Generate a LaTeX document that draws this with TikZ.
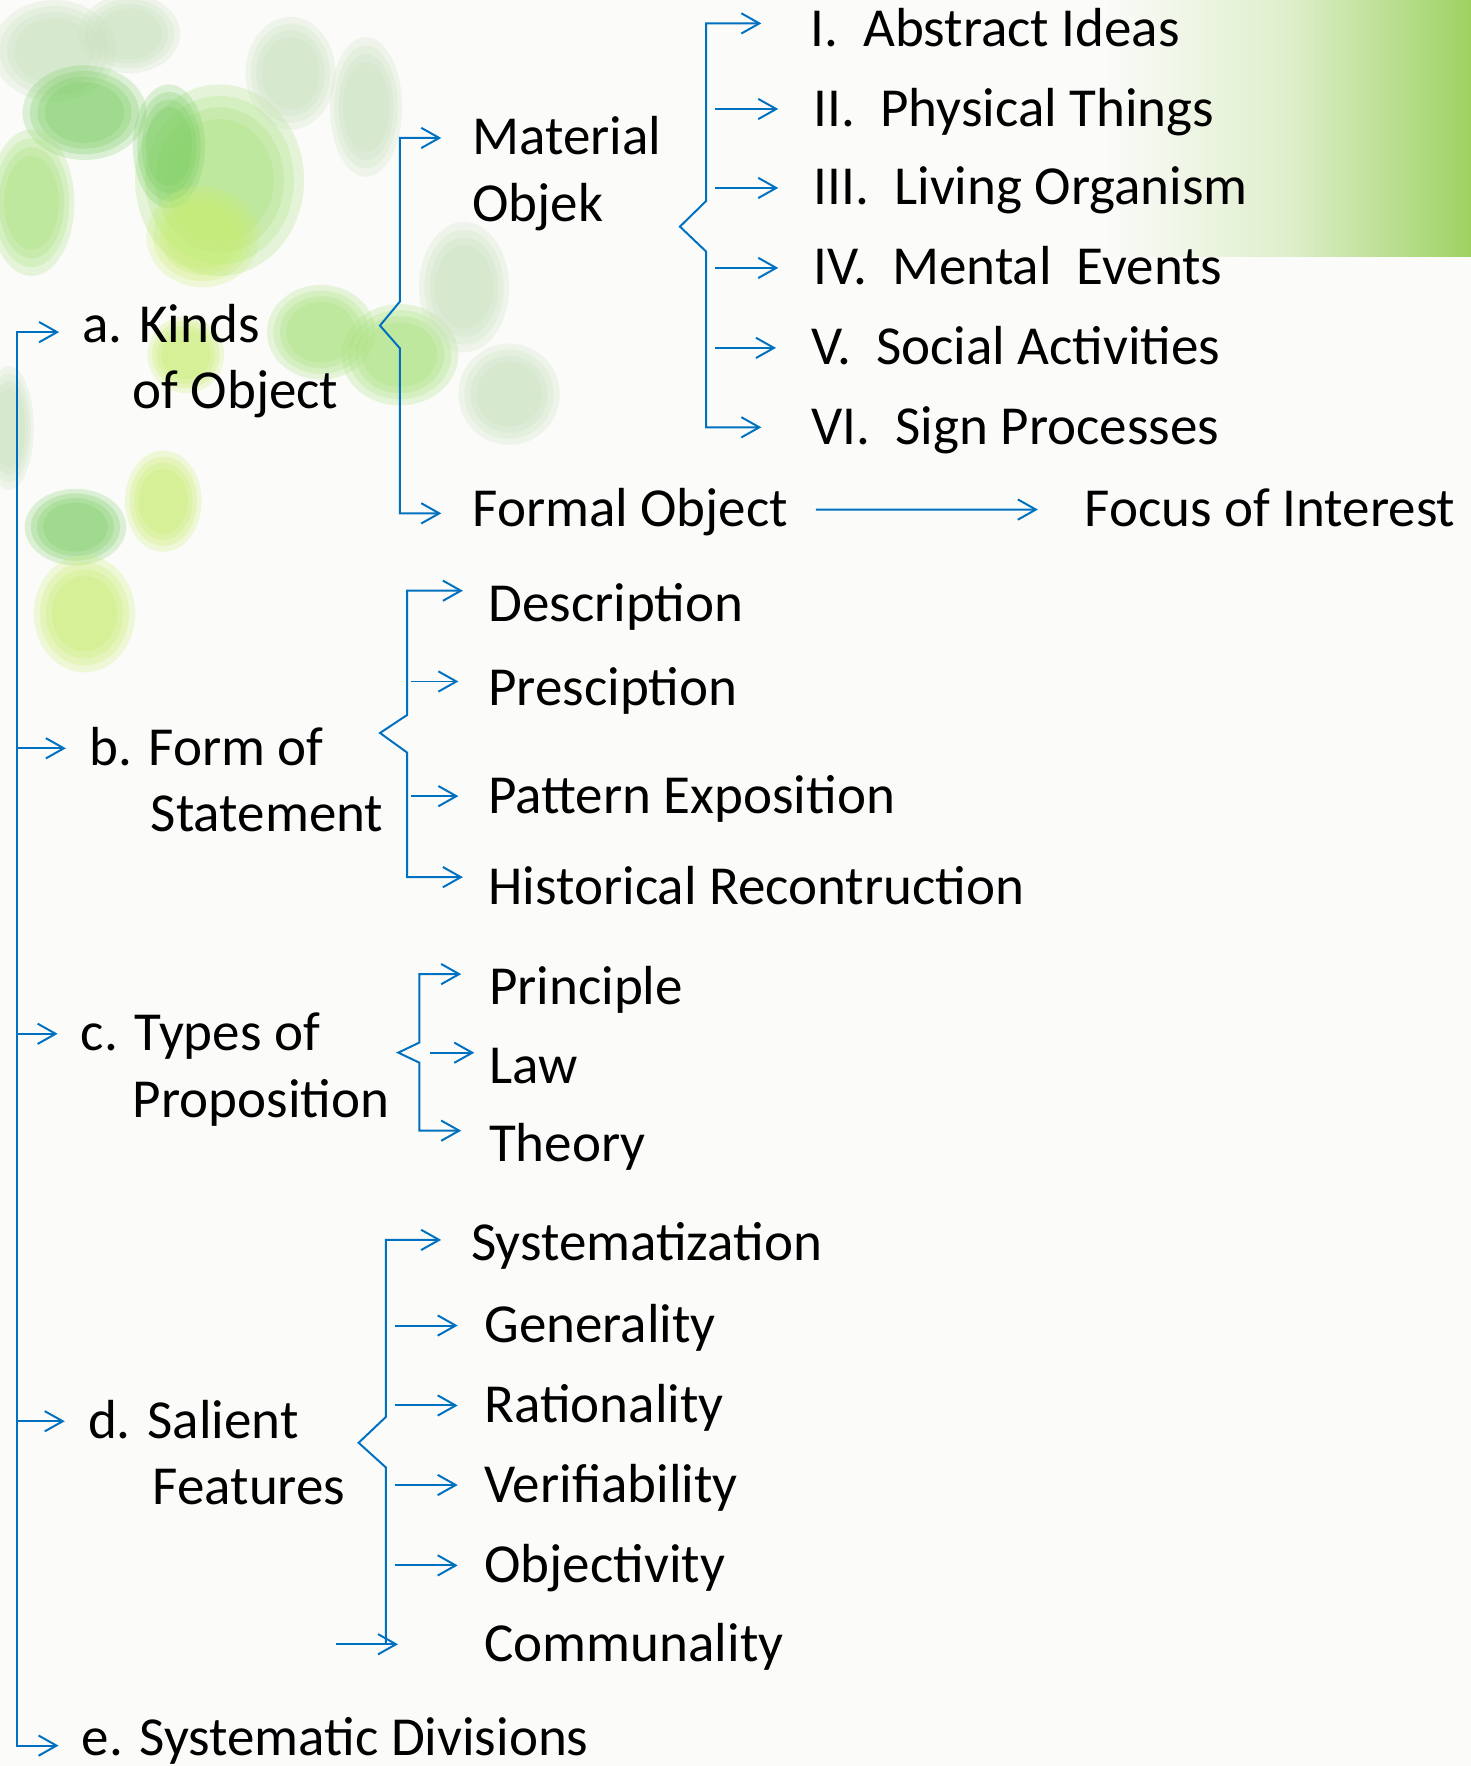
\documentclass[tikz,border=0pt]{standalone}
\usepackage{fontspec}
\setmainfont{Carlito}
\usetikzlibrary{arrows.meta}
\definecolor{arrowblue}{RGB}{0,112,192}
\definecolor{bgwhite}{RGB}{251,251,250}
\definecolor{leafgreen}{RGB}{158,210,98}
\definecolor{leafA}{RGB}{120,205,95}
\definecolor{leafB}{RGB}{165,225,120}
\definecolor{leafC}{RGB}{200,238,110}
\definecolor{leafD}{RGB}{200,226,188}

\begin{document}
\begin{tikzpicture}[>={Straight Barb[length=1.6mm,width=1.8mm]},
  link/.style={arrowblue, line width=0.5pt},
  txt/.style={anchor=base west, inner sep=0pt, text height=8.6pt, text depth=0pt,
    font=\fontsize{13.9pt}{16.7pt}\selectfont}]
  % background
  \fill[bgwhite] (0,0) rectangle (13.06,-15.68);
  \useasboundingbox (0,0) rectangle (13.06,-15.68);
  \shade[left color=bgwhite, right color=leafgreen, middle color=leafgreen!30!bgwhite] (9.8,0) rectangle (13.06,-2.28);
  \foreach \x/\y/\a/\b/\c in {0.48/0.45/0.55/0.45/leafD, 1.15/0.30/0.45/0.35/leafD, 0.75/1.00/0.55/0.42/leafA,
      0.28/1.80/0.38/0.65/leafB, 1.95/1.60/0.75/0.85/leafB, 1.50/1.30/0.32/0.55/leafA, 1.80/2.10/0.50/0.45/leafC,
      2.85/2.95/0.48/0.42/leafB, 3.55/3.15/0.52/0.45/leafB, 3.25/0.95/0.32/0.62/leafD, 2.58/0.65/0.40/0.50/leafD,
      4.12/2.55/0.40/0.58/leafD, 4.52/3.50/0.45/0.45/leafD, 0.67/4.68/0.45/0.34/leafA, 1.45/4.45/0.34/0.45/leafC,
      0.75/5.45/0.45/0.52/leafC, 0.08/3.80/0.22/0.55/leafD, 1.65/3.15/0.34/0.34/leafC}
    \foreach \s in {1,0.88,0.76,0.64}
      \fill[\c, fill opacity=0.25] (\x,-\y) ellipse [x radius={\s*\a}, y radius={\s*\b}]; % soft leaf

  % first level
  \node[txt] (kinds) at (0.725,-3.04) {a. Kinds};
  \node[txt] (kinds2) at (1.17,-3.63) {of Object};
  \node[txt] (form) at (0.785,-6.795) {b. Form of};
  \node[txt] (form2) at (1.333,-7.385) {Statement};
  \node[txt] (types) at (0.712,-9.33) {c. Types of};
  \node[txt] (types2) at (1.173,-9.922) {Proposition};
  \node[txt] (salient) at (0.775,-12.77) {d. Salient};
  \node[txt] (salient2) at (1.35,-13.355) {Features};
  \node[txt] (sysdiv) at (0.72,-15.59) {e. Systematic Divisions};

  % kinds of object
  \node[txt] (mat) at (4.188,-1.376) {Material};
  \node[txt] (objek) at (4.188,-1.968) {Objek};
  \node[txt] (formal) at (4.188,-4.676) {Formal Object};
  \node[txt] (focus) at (9.625,-4.675) {Focus of Interest};
  \node[txt] (abstract) at (7.19,-0.414) {I.~~Abstract Ideas};
  \node[txt] (physical) at (7.22,-1.119) {II.~~Physical Things};
  \node[txt] (living) at (7.22,-1.82) {III.~~Living Organism};
  \node[txt] (mental) at (7.22,-2.53) {IV.~~Mental~~Events};
  \node[txt] (social) at (7.20,-3.24) {V.~~Social Activities};
  \node[txt] (sign) at (7.20,-3.945) {VI.~~Sign Processes};

  % form of statement
  \node[txt] (desc) at (4.33,-5.52) {Description};
  \node[txt] (presc) at (4.33,-6.26) {Presciption};
  \node[txt] (pattern) at (4.33,-7.22) {Pattern Exposition};
  \node[txt] (hist) at (4.33,-8.034) {Historical Recontruction};

  % types of proposition
  \node[txt] (princ) at (4.335,-8.92) {Principle};
  \node[txt] (law) at (4.335,-9.624) {Law};
  \node[txt] (theory) at (4.335,-10.313) {Theory};

  % salient features
  \node[txt] (syst) at (4.177,-11.19) {Systematization};
  \node[txt] (gen) at (4.294,-11.92) {Generality};
  \node[txt] (rat) at (4.294,-12.63) {Rationality};
  \node[txt] (verif) at (4.294,-13.336) {Verifiability};
  \node[txt] (obj) at (4.294,-14.05) {Objectivity};
  \node[txt] (commun) at (4.294,-14.75) {Communality};

  % spine
  \coordinate (spine) at (0.15,0);
  \draw[link,<->] ([xshift=-2mm,yshift=-0.6mm]kinds.west) -| ([yshift=-0.6mm]spine |- sysdiv.west)
    -- ([xshift=-2mm,yshift=-0.6mm]sysdiv.west);
  \foreach \n in {form,types,salient}
    \draw[link,->] (spine |- \n.west) -- ([xshift=-2mm]\n.west);

  % brace a
  \draw[link,<->] ([xshift=-2.7mm]mat.west) -| (3.55,-2.678) -- (3.374,-2.891) -- (3.55,-3.092)
    |- ([xshift=-2.7mm,yshift=-0.33mm]formal.west);
  \draw[link,->,shorten <=2.4mm,shorten >=4.1mm] (formal) -- (focus);

  % brace material
  \draw[link,<->] ([xshift=-4.3mm,yshift=0.55mm]abstract.west) -| (6.27,-1.784) -- (6.037,-2.012) -- (6.27,-2.234)
    |- ([xshift=-4.4mm]sign.west);
  \coordinate (mx) at (6.35,0);
  \foreach \n in {physical,living,mental,social}
    \draw[link,->] (mx |- \n.west) -- ([xshift=-3.1mm]\n.west);

  % brace b
  \draw[link,<->] ([xshift=-2.2mm,yshift=1.24mm]desc.west) -| (3.615,-6.348) -- (3.374,-6.508) -- (3.615,-6.682)
    |- ([xshift=-2.2mm,yshift=0.95mm]hist.west);
  \coordinate (bx) at (3.65,0);
  \draw[link,->] ([yshift=0.58mm]bx |- presc.west) -- ([xshift=-2.6mm,yshift=0.58mm]presc.west);
  \draw[link,->] (bx |- pattern.west) -- ([xshift=-2.6mm]pattern.west);

  % brace c
  \draw[link,<->] ([xshift=-2.4mm,yshift=1.2mm]princ.west) -| (3.723,-9.257) -- (3.536,-9.346) -- (3.723,-9.435)
    |- ([xshift=-2.4mm,yshift=1.23mm]theory.west);
  \draw[link,->] ([xshift=-5.17mm,yshift=1.26mm]law.west) -- ([xshift=-1.24mm,yshift=1.26mm]law.west);

  % brace d
  \coordinate (dv) at (3.427,0);
  \coordinate (dx) at (3.51,0);
  \draw[link,<-] ([xshift=-2.6mm,yshift=0.3mm]syst.west) -| (3.427,-12.58) -- (3.184,-12.81) -- (3.427,-13.03)
    -- (dv |- commun.west);
  \foreach \n in {gen,rat,verif,obj}
    \draw[link,->] (dx |- \n.west) -- ([xshift=-2.3mm]\n.west);
  \draw[link,->] ([xshift=-13.1mm]commun.west) -- ([xshift=-7.6mm]commun.west);
\end{tikzpicture}
\end{document}
